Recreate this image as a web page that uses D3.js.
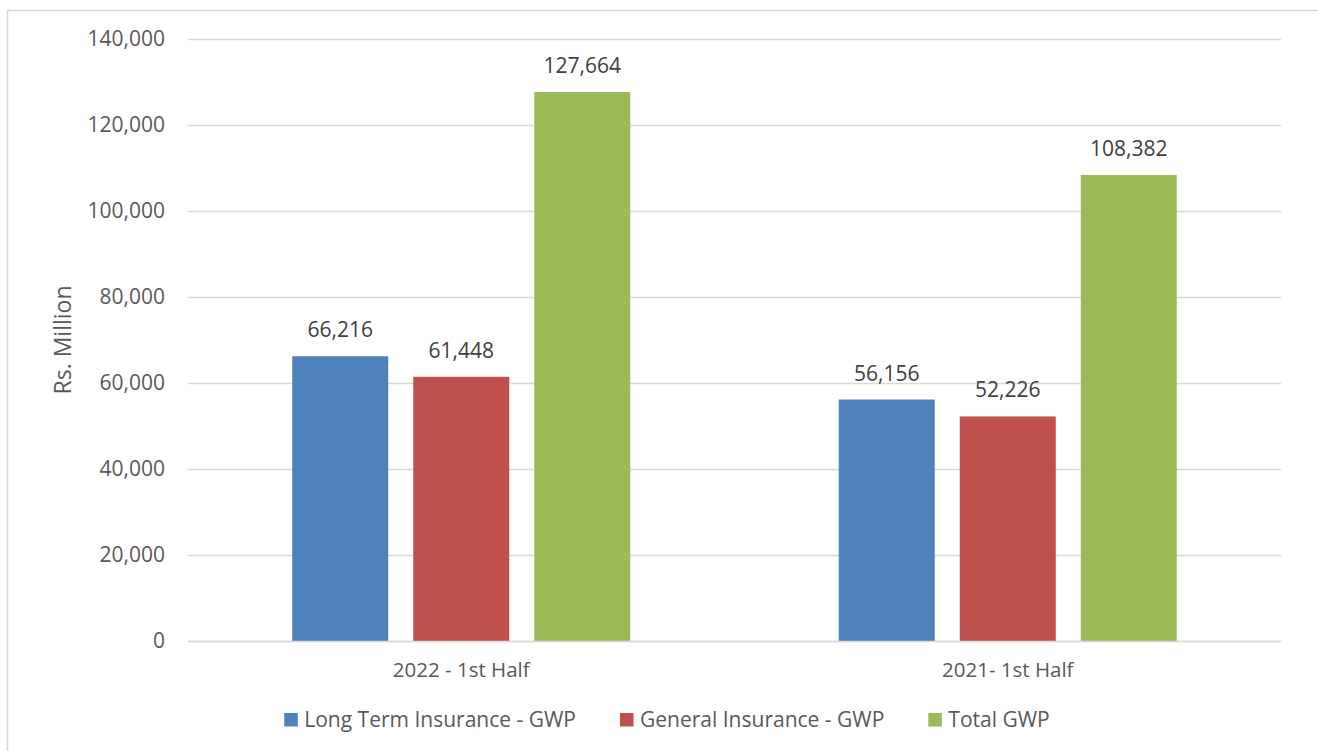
<!DOCTYPE html>
<html>
<head>
<meta charset="utf-8">
<script src="https://cdn.jsdelivr.net/npm/d3@7"></script>
<style>
  html, body { margin: 0; padding: 0; background: #fff; }
  svg { display: block; font-family: "Open Sans", Lato, sans-serif; }
</style>
</head>
<body>
<svg id="chart" width="1318" height="751"></svg>
<script>
// Gross written premium by period (Rs. Million)
const periods = ["2022 - 1st Half", "2021- 1st Half"];
const seriesNames = ["Long Term Insurance - GWP", "General Insurance - GWP", "Total GWP"];
const longTerm = [66216, 56156];
const general = [61448, 52226];
const total = [127664, 108382];
const yTicks = [0, 20000, 40000, 60000, 80000, 100000, 120000, 140000];
const colors = ["#4f81bd", "#c0504d", "#9bbb59"];

const seriesValues = [longTerm, general, total];
const rows = periods.map((p, i) => ({
  period: p,
  values: seriesNames.map((s, j) => ({ series: s, value: seriesValues[j][i], color: colors[j] }))
}));

const svg = d3.select("#chart");
const W = 1318, H = 751;
const plot = { left: 188, right: 1281, top: 39, bottom: 641 };
const fmt = d3.format(",");
const textColor = "#595959";
const font = "'Open Sans', Lato, sans-serif";

// outer frame
svg.append("rect")
  .attr("x", 7.5).attr("y", 10.5)
  .attr("width", W).attr("height", H)
  .attr("fill", "none").attr("stroke", "#d9d9d9").attr("stroke-width", 1.5);

const y = d3.scaleLinear().domain([0, 140000]).range([plot.bottom, plot.top]);
const x0 = d3.scaleBand().domain(periods).range([plot.left, plot.right]).paddingInner(0).paddingOuter(0);
const x1 = d3.scaleBand().domain(seriesNames).range([0, 338]).paddingInner(0.2067).paddingOuter(0);
const groupOffset = (x0.bandwidth() - 338) / 2;

// horizontal gridlines + tick labels
const yAxis = d3.axisLeft(y).tickValues(yTicks).tickFormat(d => fmt(d))
  .tickSize(-(plot.right - plot.left)).tickPadding(23);
const gy = svg.append("g").attr("transform", `translate(${plot.left},0)`).call(yAxis);
gy.select(".domain").remove();
gy.selectAll(".tick line").attr("stroke", "#d9d9d9").attr("stroke-width", 1.3);
gy.selectAll(".tick text").attr("fill", textColor).attr("font-size", 21)
  .attr("font-family", font);

// bars
const groups = svg.append("g").selectAll("g").data(rows).join("g")
  .attr("transform", d => `translate(${x0(d.period) + groupOffset},0)`);

groups.selectAll("rect").data(d => d.values).join("rect")
  .attr("x", d => x1(d.series))
  .attr("width", x1.bandwidth())
  .attr("y", d => y(d.value))
  .attr("height", d => y(0) - y(d.value))
  .attr("fill", d => d.color);

groups.selectAll("text").data(d => d.values).join("text")
  .attr("x", d => x1(d.series) + x1.bandwidth() / 2)
  .attr("y", d => y(d.value) - 19)
  .attr("text-anchor", "middle")
  .attr("fill", "#404040").attr("font-size", 21)
  .text(d => fmt(d.value));

// category labels
const xAxis = d3.axisBottom(x0).tickSize(0).tickPadding(21);
const gx = svg.append("g").attr("transform", `translate(0,${plot.bottom})`).call(xAxis);
gx.select(".domain").attr("stroke", "#d9d9d9").attr("stroke-width", 1.3);
gx.selectAll(".tick text").attr("fill", textColor).attr("font-size", 20.5)
  .attr("font-family", font);

// y-axis title
svg.append("text")
  .attr("transform", `translate(71,${(plot.top + plot.bottom) / 2}) rotate(-90)`)
  .attr("text-anchor", "middle")
  .attr("fill", textColor).attr("font-size", 23)
  .text("Rs. Million");

// legend, laid out from measured text widths and centred
const legend = svg.append("g");
const items = legend.selectAll("g").data(seriesNames).join("g");
items.append("rect").attr("y", -14).attr("width", 13.5).attr("height", 13.5).attr("fill", (d, i) => colors[i]);
items.append("text").attr("x", 20).attr("y", 0)
  .attr("fill", textColor).attr("font-size", 21)
  .text(d => d);
const gap = 44;
let cursor = 0;
const offsets = [];
items.each(function () {
  offsets.push(cursor);
  cursor += 20 + this.querySelector("text").getComputedTextLength() + gap;
});
const legendWidth = cursor - gap;
items.attr("transform", (d, i) => `translate(${offsets[i]},0)`);
legend.attr("transform", `translate(${667 - legendWidth / 2},727)`);
</script>
</body>
</html>
